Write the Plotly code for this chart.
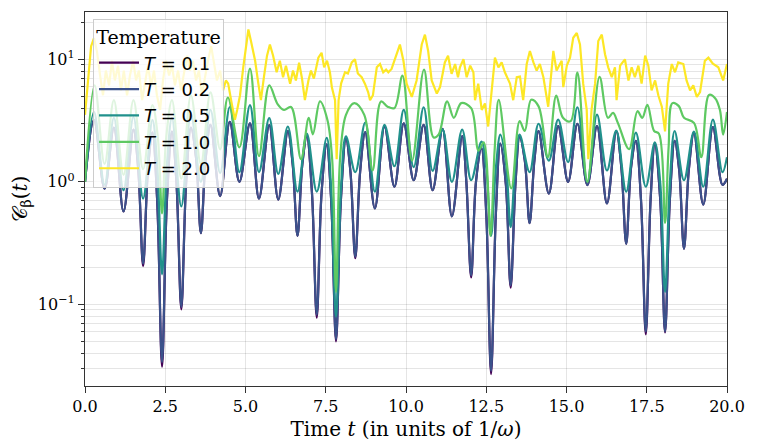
import plotly.graph_objects as go

# ---------------- data ----------------
temperatures = ["0.1", "0.2", "0.5", "1.0", "2.0"]

t_low = [0.00, 0.28, 0.61, 0.90, 1.20, 1.51, 1.66, 1.81, 1.96, 2.10, 2.25, 2.40, 2.55, 2.71, 2.85,
         3.00, 3.15, 3.30, 3.46, 3.61, 3.76, 3.91, 4.21, 4.51, 4.81, 5.14, 5.42, 5.74, 6.02, 6.32,
         6.47, 6.62, 6.77, 6.91, 7.07, 7.22, 7.37, 7.53, 7.67, 7.82, 7.97, 8.13, 8.27, 8.42, 8.57,
         8.73, 9.03, 9.33, 9.64, 9.93, 10.24, 10.55, 10.83, 11.14, 11.43, 11.75, 11.88, 12.03, 12.18,
         12.35, 12.50, 12.65, 12.80, 12.94, 13.11, 13.26, 13.41, 13.54, 13.70, 13.85, 14.00, 14.13,
         14.45, 14.74, 15.05, 15.34, 15.65, 15.95, 16.26, 16.55, 16.71, 16.86, 17.01, 17.16, 17.32,
         17.47, 17.62, 17.75, 17.92, 18.07, 18.22, 18.37, 18.51, 18.66, 18.81, 18.97, 19.26, 19.56,
         19.86, 20.00]

c_T01 = [1.00, 3.21, 0.88, 2.77, 0.574, 2.67, 1.25, 0.205, 1.25, 2.52, 0.69, 0.031, 0.69, 2.57, 0.98,
         0.091, 0.98, 2.77, 1.56, 0.382, 1.56, 2.92, 0.765, 3.09, 1.00, 3.00, 0.730, 2.90, 0.717, 2.59,
         1.39, 0.362, 1.39, 2.36, 0.816, 0.078, 0.816, 2.02, 0.70, 0.050, 0.70, 2.26, 1.20, 0.238, 1.20,
         2.55, 0.607, 2.84, 0.912, 3.00, 1.03, 2.92, 0.855, 2.71, 0.523, 2.36, 1.00, 0.166, 1.00,
         1.88, 0.553, 0.0270, 0.553, 2.05, 0.96, 0.137, 0.96, 2.33, 1.50, 0.460, 1.50, 2.60,
         0.801, 2.85, 1.00, 2.98, 0.941, 2.85, 0.666, 2.60, 1.30, 0.312, 1.30, 2.16, 0.717,
         0.057, 0.717, 2.03, 0.717, 0.059, 0.717, 2.16, 1.25, 0.284, 1.25, 2.52, 0.653, 2.80,
         0.946, 1.06]

c_T02 = [1.00, 3.21, 0.88, 2.77, 0.574, 2.67, 1.25, 0.215, 1.25, 2.52, 0.69, 0.0339, 0.69, 2.57, 0.98,
         0.0955, 0.98, 2.77, 1.56, 0.382, 1.56, 2.92, 0.765, 3.09, 1.00, 3.00, 0.730, 2.90, 0.717, 2.59,
         1.39, 0.362, 1.39, 2.36, 0.816, 0.0824, 0.816, 2.02, 0.70, 0.0519, 0.70, 2.26, 1.20, 0.245, 1.20,
         2.55, 0.607, 2.84, 0.912, 3.00, 1.03, 2.92, 0.855, 2.71, 0.523, 2.36, 1.00, 0.1725, 1.00,
         1.88, 0.553, 0.0287, 0.553, 2.05, 0.96, 0.143, 0.96, 2.33, 1.50, 0.460, 1.50, 2.60,
         0.801, 2.85, 1.00, 2.98, 0.941, 2.85, 0.666, 2.60, 1.30, 0.312, 1.30, 2.16, 0.717,
         0.0601, 0.717, 2.03, 0.717, 0.0601, 0.717, 2.16, 1.25, 0.284, 1.25, 2.52, 0.653, 2.80,
         0.946, 1.06]

t_T05 = [0.00, 0.28, 0.61, 0.90, 1.20, 1.51, 1.81, 2.10, 2.25, 2.40, 2.55, 2.71, 3.00, 3.30, 3.61,
         3.91, 4.21, 4.51, 4.81, 5.14, 5.42, 5.74, 6.02, 6.32, 6.62, 6.91, 7.22, 7.53, 7.67, 7.82,
         7.97, 8.13, 8.42, 8.73, 9.03, 9.33, 9.64, 9.93, 10.24, 10.55, 10.83, 11.14, 11.43, 11.75,
         12.03, 12.35, 12.50, 12.65, 12.80, 12.94, 13.11, 13.26, 13.41, 13.54, 13.85, 14.13, 14.45,
         14.74, 15.05, 15.34, 15.65, 15.95, 16.26, 16.55, 16.86, 17.16, 17.47, 17.75, 17.92, 18.07,
         18.22, 18.37, 18.66, 18.97, 19.26, 19.56, 19.86, 20.00]
c_T05 = [1.00, 3.72, 0.946, 3.33, 0.855, 3.39, 0.730, 3.21, 1.37, 0.176, 1.37, 3.33, 0.630, 3.58, 1.00,
         3.86, 1.18, 4.08, 1.20, 4.23, 1.20, 3.31, 1.16, 2.83, 0.831, 2.47, 0.831, 2.29, 0.85, 0.0794,
         0.85, 2.35, 1.20, 3.05, 0.831, 2.92, 1.34, 3.86, 1.32, 4.06, 1.23, 2.67, 1.00, 2.67,
         1.03, 2.13, 1.30, 0.362, 1.30, 2.43, 1.45, 0.427, 1.45, 2.43, 1.20, 2.98, 1.49,
         3.22, 1.45, 4.06, 1.00, 3.54, 1.24, 2.62, 0.831, 2.52, 0.912, 2.10, 0.98, 0.1267,
         0.98, 2.60, 1.03, 2.57, 0.912, 3.22, 1.20, 1.59]

t_T10 = [0.00, 0.30, 0.61, 0.90, 1.20, 1.51, 1.81, 2.10, 2.27, 2.40, 2.53, 2.71, 3.00, 3.30, 3.61,
         3.91, 4.21, 4.45, 4.81, 5.14, 5.42, 5.74, 6.00, 6.20, 6.42, 6.73, 6.97, 7.10, 7.32, 7.55,
         7.70, 7.82, 7.95, 8.13, 8.39, 8.70, 8.96, 9.22, 9.43, 9.64, 9.89, 10.19, 10.56, 10.86,
         11.02, 11.28, 11.49, 11.72, 12.03, 12.26, 12.42, 12.63, 12.76, 12.89, 13.28, 13.54, 13.70,
         13.90, 14.13, 14.42, 14.68, 14.89, 15.13, 15.34, 15.65, 16.03, 16.29, 16.45, 16.60, 16.95,
         17.21, 17.36, 17.52, 17.73, 17.88, 18.07, 18.18, 18.30, 18.50, 18.66, 18.97, 19.20, 19.44,
         19.63, 19.78, 19.88, 20.00]
c_T10 = [1.00, 6.12, 1.40, 4.64, 1.14, 4.64, 1.27, 4.23, 2.30, 0.553, 2.30, 4.64, 1.06, 5.09, 1.40,
         5.38, 1.84, 4.88, 1.91, 8.39, 1.62, 6.12, 4.31, 3.86, 4.08, 1.53, 3.33, 2.44, 4.53, 3.21,
         1.53, 0.126, 1.60, 3.52, 4.39, 3.52, 1.24, 4.53, 4.10, 4.00, 7.37, 1.49, 8.24, 2.30,
         2.44, 4.53, 3.33, 4.39, 4.00, 1.80, 2.10, 0.362, 1.80, 4.67, 0.884, 3.13, 2.60,
         4.67, 4.13, 1.59, 5.06, 3.33, 3.13, 7.79, 1.00, 7.20, 3.33, 3.65, 3.03, 1.85,
         3.77, 3.33, 4.25, 2.60, 2.47, 0.462, 1.90, 4.39, 4.15, 3.33, 3.03, 1.59, 5.12,
         4.82, 3.86, 2.43, 3.72]

t_T20 = [0.00, 0.09, 0.19, 0.28, 0.37, 0.47, 0.56, 0.65, 0.75, 0.84, 0.93, 1.03, 1.12, 1.21, 1.31,
         1.40, 1.50, 1.59, 1.68, 1.78, 1.87, 1.96, 2.06, 2.15, 2.24, 2.34, 2.43, 2.52, 2.62, 2.71,
         2.80, 2.90, 2.99, 3.08, 3.18, 3.27, 3.36, 3.46, 3.55, 3.64, 3.74, 3.83, 3.93, 4.02, 4.11,
         4.21, 4.30, 4.39, 4.46, 4.58, 4.67, 4.74, 4.83, 4.93, 5.04, 5.09, 5.17, 5.30, 5.40, 5.48,
         5.58, 5.67, 5.76, 5.86, 5.97, 6.07, 6.17, 6.26, 6.39, 6.48, 6.57, 6.67, 6.76, 6.85, 6.96,
         7.04, 7.13, 7.22, 7.27, 7.37, 7.45, 7.54, 7.63, 7.69, 7.79, 7.84, 7.90, 7.98, 8.10, 8.19,
         8.31, 8.41, 8.50, 8.62, 8.72, 8.82, 8.88, 8.97, 9.09, 9.19, 9.29, 9.38, 9.45, 9.55, 9.66,
         9.81, 9.92, 10.02, 10.18, 10.33, 10.49, 10.59, 10.69, 10.80, 10.96, 11.06, 11.21, 11.31,
         11.42, 11.53, 11.62, 11.68, 11.79, 11.89, 12.00, 12.10, 12.15, 12.25, 12.36, 12.46, 12.56,
         12.67, 12.77, 12.88, 12.98, 13.08, 13.24, 13.34, 13.45, 13.55, 13.65, 13.76, 13.86, 13.97,
         14.07, 14.17, 14.28, 14.43, 14.54, 14.59, 14.69, 14.85, 14.90, 15.01, 15.11, 15.21, 15.32,
         15.42, 15.52, 15.63, 15.68, 15.78, 15.89, 15.99, 16.10, 16.20, 16.30, 16.41, 16.51, 16.56,
         16.67, 16.82, 16.93, 17.03, 17.13, 17.24, 17.34, 17.45, 17.55, 17.65, 17.76, 17.86, 17.97,
         18.07, 18.17, 18.28, 18.38, 18.48, 18.64, 18.74, 18.85, 18.95, 19.06, 19.16, 19.31, 19.42,
         19.56, 19.73, 19.88, 20.00]
c_T20 = [3.52, 6.72, 12.8, 14.9, 11.7, 7.37, 5.09, 8.09, 6.12, 9.72, 6.72, 8.87, 5.58, 8.09, 5.09,
         7.37, 9.72, 6.72, 8.09, 4.64, 6.72, 8.87, 6.12, 8.09, 5.09, 3.86, 6.72, 9.72, 7.37, 8.87,
         6.12, 8.09, 5.58, 7.37, 10.7, 8.09, 9.72, 6.72, 8.09, 5.09, 7.37, 9.72, 12.8, 8.87, 6.72,
         8.09, 5.58, 6.72, 6.33, 4.23, 3.21, 3.86, 5.09, 8.60, 15.0, 17.5, 14.1, 9.72, 6.33, 4.64,
         7.37, 10.7, 13.2, 10.7, 7.84, 9.72, 7.14, 8.87, 6.33, 8.09, 6.72, 9.37, 6.97, 4.64, 6.72,
         8.09, 6.97, 9.15, 10.3, 11.3, 8.60, 9.72, 7.84, 5.90, 4.64, 1.53, 4.64, 6.36, 7.84, 7.65,
         9.43, 10.0, 7.65, 7.14, 6.33, 5.41, 4.64, 5.09, 8.60, 9.15, 7.84, 8.24, 7.84, 8.34, 10.3,
         13.2, 9.72, 6.33, 4.93, 6.72, 13.2, 15.9, 11.7, 6.72, 5.25, 5.93, 9.43, 10.7,
         7.60, 9.15, 7.14, 8.60, 10.0, 7.14, 8.87, 7.84, 4.64, 6.33, 3.86, 4.37, 2.83,
         5.25, 10.3, 8.60, 9.43, 7.84, 6.33, 4.64, 7.14, 7.23, 4.64, 9.15, 11.7, 9.43,
         8.09, 9.15, 7.14, 4.10, 8.60, 11.7, 8.09, 9.72, 5.93, 8.87, 10.3, 15.0, 16.4,
         13.2, 6.33, 3.86, 1.53, 3.86, 6.33, 14.1, 15.9, 11.0, 8.60, 7.14, 8.60, 4.64,
         8.87, 10.0, 6.72, 8.60, 7.14, 8.87, 6.33, 10.7, 8.87, 5.58, 6.72, 5.09, 4.10,
         2.58, 6.33, 9.15, 7.84, 9.43, 9.15, 6.72, 5.58, 6.12, 4.93, 5.41, 9.72, 10.3,
         9.20, 8.60, 6.72, 9.15]

x_ticks = [0.0, 2.5, 5.0, 7.5, 10.0, 12.5, 15.0, 17.5, 20.0]
y_ticks = [0.1, 1, 10]
y_tick_labels = ["10<sup>−1</sup>", "10<sup>0</sup>", "10<sup>1</sup>"]

# ---------------- figure ----------------
colors = ["#440154", "#3b528b", "#21918c", "#5ec962", "#fde725"]
series = [(t_low, c_T01), (t_low, c_T02), (t_T05, c_T05), (t_T10, c_T10), (t_T20, c_T20)]
shapes = ["spline", "spline", "spline", "spline", "linear"]

fig = go.Figure()
for T, (tx, cy), col, shp in zip(temperatures, series, colors, shapes):
    fig.add_trace(go.Scatter(
        x=tx, y=cy, mode="lines", name=f"<i>T</i> = {T}",
        line=dict(color=col, width=2.2, shape=shp, smoothing=1.0),
    ))

minor_vals = [m * 10.0 ** e for e in (-2, -1, 0, 1) for m in range(2, 10)]
grid_col = "rgba(0,0,0,0.10)"
serif = "DejaVu Serif"

# the page body adds an 8 px offset, so the figure is 8 px smaller than the window
fig.update_layout(
    width=750, height=433,
    margin=dict(l=77, r=31, t=3, b=50),
    paper_bgcolor="white", plot_bgcolor="white",
    showlegend=True,
    legend=dict(
        x=0.0125, y=0.982, xanchor="left", yanchor="top",
        bgcolor="rgba(255,255,255,0.8)", bordercolor="#cccccc", borderwidth=1,
        font=dict(family="DejaVu Sans", size=18, color="black"),
        title=dict(text="Temperature", side="top center",
                   font=dict(family=serif, size=19, color="black")),
        itemwidth=40,
    ),
    xaxis=dict(
        range=[0, 20], tickvals=x_ticks, tickformat=".1f",
        ticks="outside", ticklen=6, tickwidth=1, tickcolor="#333",
        showline=True, linecolor="#333", linewidth=1.3, mirror=True,
        showgrid=True, gridcolor=grid_col, zeroline=False,
        tickfont=dict(family=serif, size=16, color="black"),
        title=dict(text="Time <i>t</i> (in units of 1/<i>ω</i>)", standoff=8,
                   font=dict(family=serif, size=20, color="black")),
    ),
    yaxis=dict(
        type="log", range=[-1.666, 1.386],
        tickvals=y_ticks, ticktext=y_tick_labels,
        ticks="outside", ticklen=6, tickwidth=1, tickcolor="#333",
        showline=True, linecolor="#333", linewidth=1.3, mirror=True,
        showgrid=True, gridcolor=grid_col, zeroline=False,
        minor=dict(tickvals=minor_vals, ticks="outside", ticklen=3, tickcolor="#333",
                   showgrid=True, gridcolor=grid_col),
        tickfont=dict(family=serif, size=16, color="black"),
        title=dict(text="𝒞<sub>β</sub>(<i>t</i>)", standoff=8,
                   font=dict(family=serif, size=20, color="black")),
    ),
)

fig.write_html("out.html")
